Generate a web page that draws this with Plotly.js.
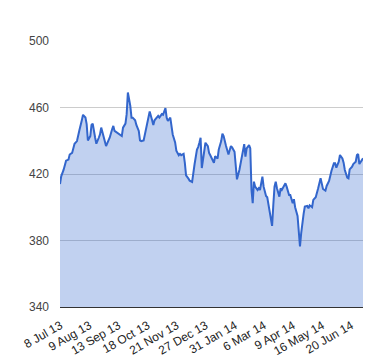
<!DOCTYPE html>
<html>
<head>
<meta charset="utf-8">
<script src="https://cdn.plot.ly/plotly-3.0.1.min.js"></script>
<style>html,body{margin:0;padding:0;background:#fff;}#chart{width:380px;height:360px;}</style>
</head>
<body>
<div id="chart"></div>
<script>
// trading-day index of each reading (0 = first trading day shown)
var tradingDay = [0,1,3,4,5,7,8,10,11,12,14,15,16,18,19,21,22,23,25,26,27,29,30,32,33,34,36,37,38,40,41,43,44,45,47,
  48,49,51,52,54,55,56,58,59,60,62,63,65,66,67,69,70,71,73,74,76,77,78,80,81,82,84,85,87,88,89,91,92,93,95,
  96,98,99,100,102,103,104,106,107,109,110,111,113,114,115,116,117,119,120,122,123,124,126,127,128,130,131,133,134,135,137,138,139,141,
  142,144,145,146,148,149,150,152,153,154,156,157,158,159,160,161,163,164,165,167,168,170,171,172,174,175,176,177,178,179,181,182,183,185,186,187,189,
  190,192,193,194,196,197,198,199,200,201,202,204,205,206,208,209,211,212,213,215,216,217,219,220,222,223,224,226,227,228,230,231,233,234,235,
  237,238,239,241,242,244,245,246,247,248,249,250];
var price = [414.0,418.6,422.6,425.7,428.0,428.7,431.7,432.7,435.8,438.2,439.8,444.0,446.3,452.3,455.6,454.0,450.0,440.2,442.8,449.5,450.3,441.8,438.2,441.8,443.8,447.9,441.8,438.2,436.8,440.2,441.8,446.9,448.9,445.9,444.8,
  444.8,443.8,442.8,447.9,450.3,456.0,469.0,461.0,453.9,453.9,452.3,449.5,445.9,440.2,439.8,440.2,443.8,446.9,452.9,457.6,452.3,449.5,452.3,453.9,454.9,453.9,456.0,455.6,459.6,453.9,451.9,453.9,447.9,443.8,439.0,
  434.0,431.3,432.1,431.3,432.1,426.7,419.2,417.2,416.0,415.2,421.2,425.7,434.7,436.2,438.8,441.8,423.6,433.7,438.8,436.8,432.7,431.3,428.7,426.7,430.7,429.3,434.7,439.8,444.2,442.8,436.8,434.1,431.7,436.8,
  436.0,433.4,426.4,416.8,422.4,426.4,430.4,438.0,430.4,435.4,437.4,435.4,410.4,402.4,415.4,412.4,410.4,411.4,410.4,418.4,412.4,406.8,406.0,401.4,392.4,388.8,401.4,412.4,415.4,411.4,406.4,411.4,410.4,413.4,414.4,412.4,407.4,
  407.4,402.4,404.8,400.0,394.8,387.4,376.4,384.4,392.8,396.0,400.4,400.8,399.4,401.2,400.0,404.4,406.0,408.4,411.4,417.4,413.4,411.0,410.0,412.8,415.8,419.8,422.0,426.4,426.4,423.8,427.4,431.4,429.4,426.8,422.4,
  417.8,417.4,422.8,424.4,426.0,427.4,431.4,432.0,426.0,427.4,428.4,429.4];
var tickDays = [2,26,50,74,98,122,146,170,194,218,242];
var tickLabels = ["8 Jul 13","9 Aug 13","13 Sep 13","18 Oct 13","21 Nov 13","27 Dec 13","31 Jan 14","6 Mar 14","9 Apr 14","16 May 14","20 Jun 14"];
var yTicks = [340,380,420,460,500];

Plotly.newPlot('chart', [{
  x: tradingDay, y: price, type: 'scatter', mode: 'lines',
  line: {color: '#3366cc', width: 2},
  fill: 'tozeroy', fillcolor: 'rgba(51,102,204,0.3)',
  hoverinfo: 'skip'
}], {
  width: 380, height: 360,
  margin: {l: 60, r: 17, t: 41, b: 53},
  paper_bgcolor: '#fff', plot_bgcolor: '#fff',
  showlegend: false,
  font: {family: 'Liberation Sans, Arial, sans-serif', size: 12, color: '#444'},
  xaxis: {range: [0, 250], tickmode: 'array', tickvals: tickDays, ticktext: tickLabels,
    tickangle: -30, showgrid: false, zeroline: false, ticks: '',
    ticklabelstandoff: 6, ticklabelshift: -2,
    showline: true, linecolor: '#333', linewidth: 1,
    tickfont: {family: 'Liberation Sans, Arial, sans-serif', size: 12, color: '#222'}},
  yaxis: {range: [340, 500], tickmode: 'array', tickvals: yTicks, ticks: '',
    showgrid: true, gridcolor: '#ccc', gridwidth: 1, zeroline: false, showline: false,
    ticklabelstandoff: 10,
    tickfont: {family: 'Liberation Sans, Arial, sans-serif', size: 12, color: '#444'}}
}, {displayModeBar: false, staticPlot: true});
</script>
</body>
</html>
